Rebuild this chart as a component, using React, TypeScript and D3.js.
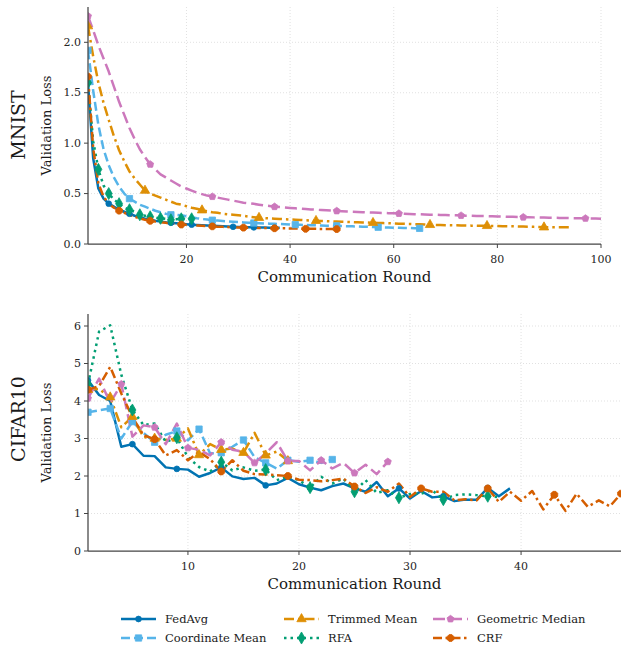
import React from 'react';
import * as d3 from 'd3';

// MNIST validation loss per communication round (round 1 .. n)
const mnistFedAvg = [1.6, 0.85, 0.55, 0.45, 0.4, 0.37, 0.34, 0.32, 0.3, 0.28, 0.265, 0.25, 0.24, 0.23, 0.222, 0.215, 0.21, 0.205, 0.2, 0.196, 0.192, 0.189, 0.186, 0.183, 0.18, 0.178, 0.176, 0.173, 0.171, 0.169, 0.168, 0.166, 0.165, 0.164, 0.163, 0.162, 0.161, 0.16];
const mnistCoordMean = [1.92, 1.52, 1.18, 0.94, 0.78, 0.66, 0.57, 0.5, 0.45, 0.42, 0.39, 0.37, 0.35, 0.33, 0.315, 0.3, 0.29, 0.29, 0.285, 0.275, 0.265, 0.255, 0.248, 0.242, 0.236, 0.232, 0.228, 0.224, 0.22, 0.217, 0.214, 0.211, 0.208, 0.206, 0.204, 0.202, 0.2, 0.198, 0.196, 0.194, 0.192, 0.19, 0.188, 0.187, 0.185, 0.184, 0.182, 0.181, 0.18, 0.178, 0.177, 0.175, 0.174, 0.172, 0.17, 0.168, 0.166, 0.165, 0.163, 0.162, 0.16, 0.159, 0.158, 0.157, 0.155];
const mnistTrimmed = [2.16, 1.86, 1.6, 1.4, 1.23, 1.07, 0.93, 0.82, 0.72, 0.65, 0.59, 0.53,
  0.5, 0.48, 0.46, 0.44, 0.42, 0.4, 0.39, 0.375, 0.36, 0.35, 0.335, 0.325,
  0.315, 0.31, 0.3, 0.295, 0.29, 0.285, 0.28, 0.272, 0.266, 0.26,
  0.257, 0.254, 0.251, 0.248, 0.245, 0.243, 0.241, 0.239, 0.236, 0.233, 0.23,
  0.228, 0.226, 0.224, 0.222, 0.22, 0.218, 0.217, 0.215, 0.213, 0.212, 0.21,
  0.208, 0.207, 0.205, 0.204, 0.202, 0.2, 0.199, 0.197, 0.195, 0.193, 0.19,
  0.189, 0.188, 0.187, 0.186, 0.185, 0.184, 0.183, 0.182, 0.181, 0.18, 0.18,
  0.179, 0.178, 0.177, 0.176, 0.175, 0.174, 0.173, 0.172, 0.17, 0.168, 0.166,
  0.166, 0.165, 0.165, 0.165, 0.165];
const mnistRFA = [1.6, 1.02, 0.74, 0.58, 0.5, 0.44, 0.4, 0.36, 0.34, 0.32, 0.29, 0.28, 0.27, 0.26, 0.255, 0.25, 0.24, 0.245, 0.25, 0.245, 0.25];
const mnistGeoMed = [2.26, 2.12, 1.97, 1.84, 1.71, 1.56, 1.41, 1.28, 1.15, 1.04, 0.94, 0.86,
  0.79, 0.74, 0.69, 0.66, 0.63, 0.6, 0.57, 0.55, 0.53, 0.51, 0.495, 0.48,
  0.47, 0.46, 0.45, 0.44, 0.43, 0.42, 0.41, 0.405, 0.398, 0.39, 0.383, 0.377,
  0.37, 0.366, 0.362, 0.358, 0.354, 0.35, 0.346, 0.343, 0.34, 0.337, 0.334, 0.331,
  0.328, 0.325, 0.322, 0.32, 0.318, 0.316, 0.314, 0.312, 0.31, 0.308, 0.306, 0.304,
  0.302, 0.3, 0.298, 0.296, 0.295, 0.293, 0.291, 0.29, 0.288, 0.287, 0.285, 0.284,
  0.282, 0.281, 0.28, 0.278, 0.277, 0.276, 0.274, 0.273, 0.272, 0.27, 0.269, 0.268,
  0.266, 0.265, 0.264, 0.263, 0.262, 0.261, 0.26, 0.259, 0.258, 0.257, 0.256, 0.255,
  0.254, 0.253, 0.252, 0.251];
const mnistCRF = [1.66, 0.95, 0.6, 0.47, 0.4, 0.36, 0.33, 0.31, 0.29, 0.27, 0.255, 0.24, 0.23, 0.222, 0.215, 0.21, 0.203, 0.198, 0.193, 0.19, 0.186, 0.183, 0.18, 0.177, 0.175, 0.172, 0.17, 0.168, 0.166, 0.164, 0.162, 0.161, 0.16, 0.159, 0.158, 0.157, 0.156, 0.155, 0.155, 0.154, 0.153, 0.152, 0.151, 0.15, 0.15, 0.149, 0.149, 0.148, 0.148];

// CIFAR10 validation loss per communication round
const cifarFedAvg = [4.55, 4.16, 4.0, 2.78, 2.85, 2.54, 2.53, 2.23, 2.19, 2.17, 1.98, 2.08, 2.23, 1.99, 1.92, 1.95, 1.75, 1.8, 1.95, 1.78, 1.69, 1.62, 1.73, 1.8, 1.67, 1.58, 1.84, 1.46, 1.67, 1.4, 1.6, 1.43, 1.46, 1.33, 1.37, 1.37, 1.68, 1.46, 1.67];
const cifarCoordMean = [3.7, 3.75, 3.8, 3.0, 3.45, 3.15, 2.9, 3.1, 3.2, 2.95, 3.25, 2.6, 2.62, 2.78, 2.96, 2.5, 2.35, 2.2, 2.42, 2.38, 2.42, 2.35, 2.44];
const cifarTrimmed = [4.3, 4.32, 4.1, 3.3, 3.58, 3.04, 3.0, 2.96, 3.0, 3.27, 2.56, 2.85, 2.7, 2.73, 2.62, 3.15, 2.55, 2.65, 2.4];
const cifarRFA = [4.45, 5.85, 6.02, 4.7, 3.76, 3.36, 3.4, 2.91, 3.02, 2.5, 2.24, 2.12, 2.37, 2.15, 2.23, 2.14, 2.17, 1.89, 1.98, 1.89, 1.69, 1.98, 1.8, 1.93, 1.58, 1.89, 1.55, 1.62, 1.42, 1.52, 1.53, 1.62, 1.37, 1.49, 1.51, 1.49, 1.46, 1.44];
const cifarGeoMed = [4.07, 4.6, 3.95, 4.45, 3.05, 3.35, 3.3, 2.85, 3.4, 2.75, 2.7, 2.55, 2.9, 2.7, 2.65, 2.35, 2.6, 2.9, 2.4, 2.4, 2.15, 2.42, 2.2, 2.35, 2.08, 2.3, 2.05, 2.38];
const cifarCRF = [4.3, 4.4, 4.91, 4.2, 3.57, 3.09, 2.98, 2.55, 2.69, 2.42, 2.64, 2.45, 2.12, 2.42, 2.14, 2.05, 2.04, 2.02, 2.0, 1.9, 1.89, 1.86, 1.89, 1.93, 1.72, 1.55, 1.7, 1.58, 1.8, 1.44, 1.67, 1.58, 1.58, 1.35, 1.38, 1.35, 1.67, 1.31, 1.58, 1.34, 1.6, 1.11, 1.5, 1.07, 1.53, 1.18, 1.35, 1.19, 1.53];

const methods = ['FedAvg', 'Coordinate Mean', 'Trimmed Mean', 'RFA', 'Geometric Median', 'CRF'];
const mnistSeries = [mnistFedAvg, mnistCoordMean, mnistTrimmed, mnistRFA, mnistGeoMed, mnistCRF];
const cifarSeries = [cifarFedAvg, cifarCoordMean, cifarTrimmed, cifarRFA, cifarGeoMed, cifarCRF];

const mnistTicksX = [20, 40, 60, 80, 100];
const mnistTicksY = [0, 0.5, 1, 1.5, 2];
const cifarTicksX = [10, 20, 30, 40];
const cifarTicksY = [0, 1, 2, 3, 4, 5, 6];

const FONT = "'DejaVu Serif', 'Liberation Serif', serif";

// regular polygon marker for d3.symbol
const polygon = (k: number, rot: number) => ({
  draw(ctx: any, size: number) {
    const r = Math.sqrt((2 * size) / (k * Math.sin((2 * Math.PI) / k)));
    for (let i = 0; i < k; i++) {
      const a = rot + (i * 2 * Math.PI) / k;
      const x = r * Math.sin(a);
      const y = -r * Math.cos(a);
      if (i === 0) ctx.moveTo(x, y);
      else ctx.lineTo(x, y);
    }
    ctx.closePath();
  },
});

const styles: Record<string, { color: string; dash: string; symbol: any; size: number }> = {
  FedAvg: { color: '#0173b2', dash: '', symbol: d3.symbolCircle, size: 26 },
  'Coordinate Mean': { color: '#56b4e9', dash: '9,4', symbol: d3.symbolSquare, size: 40 },
  'Trimmed Mean': { color: '#de8f05', dash: '10,4,2.5,4', symbol: d3.symbolTriangle, size: 38 },
  RFA: { color: '#029e73', dash: '2.5,4', symbol: d3.symbolDiamond, size: 42 },
  'Geometric Median': { color: '#cc78bc', dash: '12,5', symbol: polygon(5, 0), size: 32 },
  CRF: { color: '#d55e00', dash: '9,3.5,2.5,3.5', symbol: polygon(8, Math.PI / 8), size: 38 },
};

type PanelProps = {
  id: string;
  series: number[][];
  xDomain: [number, number];
  yDomain: [number, number];
  xTicks: number[];
  yTicks: number[];
  yFmt: (v: number) => string;
  left: number;
  right: number;
  top: number;
  bottom: number;
  title: string;
  titleY: number;
};

function Panel(p: PanelProps) {
  const x = d3.scaleLinear().domain(p.xDomain).range([p.left, p.right]);
  const y = d3.scaleLinear().domain(p.yDomain).range([p.bottom, p.top]);
  const line = d3
    .line<number>()
    .x((_, i) => x(i + 1))
    .y((d) => y(d));
  const midY = (p.top + p.bottom) / 2;
  const midX = (p.left + p.right) / 2;

  return (
    <g>
      <defs>
        <clipPath id={p.id}>
          <rect x={p.left} y={p.top - 2} width={p.right - p.left} height={p.bottom - p.top + 2} />
        </clipPath>
      </defs>
      {/* grid */}
      {p.xTicks.map((t) => (
        <line key={'gx' + t} x1={x(t)} x2={x(t)} y1={p.top} y2={p.bottom} stroke="#d9d9d9" strokeWidth={0.8} strokeDasharray="1,2" />
      ))}
      {p.yTicks.filter((t) => t > 0).map((t) => (
        <line key={'gy' + t} x1={p.left} x2={p.right} y1={y(t)} y2={y(t)} stroke="#d9d9d9" strokeWidth={0.8} strokeDasharray="1,2" />
      ))}
      {/* lines */}
      <g clipPath={`url(#${p.id})`}>
        {p.series.map((s, k) => {
          const st = styles[methods[k]];
          return (
            <path key={'l' + k} d={line(s) || ''} fill="none" stroke={st.color} strokeWidth={2.5} strokeDasharray={st.dash || undefined} strokeLinejoin="round" />
          );
        })}
        {p.series.map((s, k) => {
          const st = styles[methods[k]];
          const every = Math.max(1, Math.floor(s.length / 8));
          const sym = d3.symbol(st.symbol, st.size)();
          return s.map((v, i) =>
            i % every === 0 ? (
              <path key={'m' + k + '-' + i} d={sym || ''} transform={`translate(${x(i + 1)},${y(v)})`} fill={st.color} stroke={st.color} strokeWidth={0.8} />
            ) : null
          );
        })}
      </g>
      {/* spines */}
      <line x1={p.left} x2={p.left} y1={p.top} y2={p.bottom} stroke="#444" strokeWidth={1.25} />
      <line x1={p.left} x2={p.right} y1={p.bottom} y2={p.bottom} stroke="#444" strokeWidth={1.25} />
      {p.yTicks.map((t) => (
        <g key={'ty' + t}>
          <line x1={p.left - 4} x2={p.left} y1={y(t)} y2={y(t)} stroke="#444" strokeWidth={1} />
          <text x={p.left - 7} y={y(t)} textAnchor="end" dominantBaseline="central" fontSize={11} fill="#262626">
            {p.yFmt(t)}
          </text>
        </g>
      ))}
      {p.xTicks.map((t) => (
        <g key={'tx' + t}>
          <line x1={x(t)} x2={x(t)} y1={p.bottom} y2={p.bottom + 4} stroke="#444" strokeWidth={1} />
          <text x={x(t)} y={p.bottom + 19} textAnchor="middle" fontSize={11} fill="#262626">
            {t}
          </text>
        </g>
      ))}
      <text x={midX} y={p.bottom + 38} textAnchor="middle" fontSize={15} fill="#1a1a1a">
        Communication Round
      </text>
      <text transform={`translate(51,${midY}) rotate(-90)`} textAnchor="middle" fontSize={13} fill="#1a1a1a">
        Validation Loss
      </text>
      <text transform={`translate(25,${p.titleY}) rotate(-90)`} textAnchor="middle" fontSize={19} fill="#1a1a1a">
        {p.title}
      </text>
    </g>
  );
}

function Legend() {
  const cols = [121, 284, 433];
  const rows = [619, 638];
  return (
    <g>
      {methods.map((m, i) => {
        const st = styles[m];
        const cx = cols[Math.floor(i / 2)];
        const cy = rows[i % 2];
        const sym = d3.symbol(st.symbol, st.size)();
        return (
          <g key={m}>
            <line x1={cx} x2={cx + 35} y1={cy} y2={cy} stroke={st.color} strokeWidth={2.5} strokeDasharray={st.dash || undefined} />
            <path d={sym || ''} transform={`translate(${cx + 17.5},${cy})`} fill={st.color} stroke={st.color} strokeWidth={0.8} />
            <text x={cx + 44} y={cy} dominantBaseline="central" fontSize={11.5} fill="#1a1a1a">
              {m}
            </text>
          </g>
        );
      })}
    </g>
  );
}

export default function App() {
  return (
    <svg width={621} height={645} fontFamily={FONT} style={{ position: 'absolute', left: 0, top: 0, background: '#fff', fontFamily: FONT }}>
      <Panel
        id="clip-mnist"
        series={mnistSeries}
        xDomain={[1, 100]}
        yDomain={[0, 2.35]}
        xTicks={mnistTicksX}
        yTicks={mnistTicksY}
        yFmt={d3.format('.1f')}
        left={88}
        right={601}
        top={7}
        bottom={244}
        title="MNIST"
        titleY={125}
      />
      <Panel
        id="clip-cifar"
        series={cifarSeries}
        xDomain={[1, 49]}
        yDomain={[0, 6.32]}
        xTicks={cifarTicksX}
        yTicks={cifarTicksY}
        yFmt={d3.format('d')}
        left={88}
        right={621}
        top={314}
        bottom={551}
        title="CIFAR10"
        titleY={419}
      />
      <Legend />
    </svg>
  );
}
